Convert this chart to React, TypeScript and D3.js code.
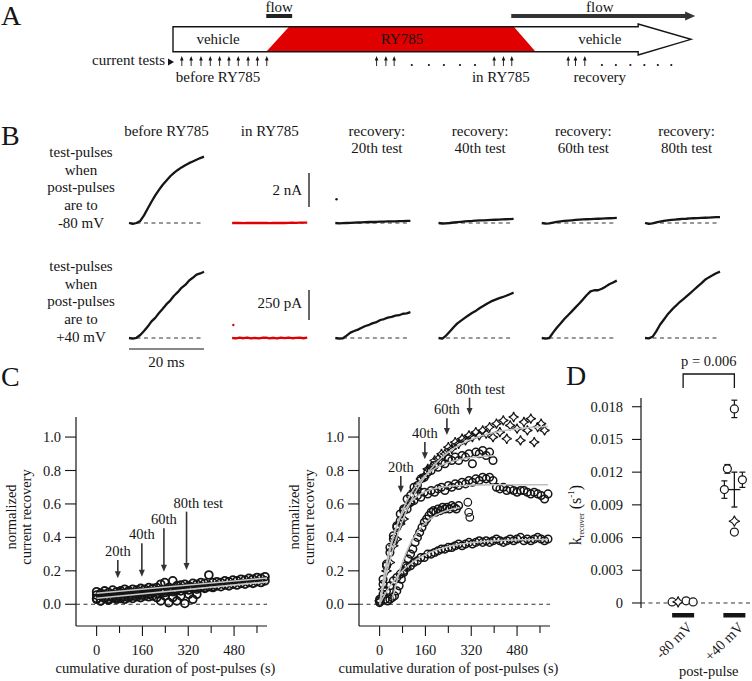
import React from 'react';
import * as d3 from 'd3';

const FONT = "'Liberation Serif', 'DejaVu Serif', 'Times New Roman', Times, serif";
const RED = '#e00000';
const INK = '#151515';

// ---------------- Panel A: protocol schematic (protocol time, a.u. 0–100) ----------------
const protocolRange = [0, 100];
const drugOnset = [18, 22.4];
const drugOffset = [65.8, 70];
const arrowHeadStart = 89.8;
const flowBrief = [18, 23];
const flowLong = [65.3, 100.8];
const testsBefore = [1.7, 3.5, 5.4, 7.2, 9.0, 10.8, 12.6, 14.5, 16.3, 18.1];
const testsDrugEarly = [39.3, 41.1, 42.7];
const dotsDrug = [46.1, 49.4, 52.3, 55.4, 58.3];
const testsDrugLate = [62, 63.8, 65.4];
const testsRecovery = [76.3, 77.7, 79.5];
const dotsRecovery = [82.8, 85.5, 88.3, 91, 93.6, 96.2];
const phaseLabels = ['vehicle', 'RY785', 'vehicle'];
const phaseLabelPos = [8.7, 44.2, 82.4];
const testLabels = ['before RY785', 'in RY785', 'recovery'];
const testLabelPos = [8.7, 63.3, 82.4];

// ---------------- Panel B: current traces ----------------
const traceTimesMs = [0, 1, 2, 3, 4, 5, 6, 7, 8, 9, 10, 11, 12, 13, 14, 15, 16, 17, 18, 19, 20];
const columnTitles = [
  ['before RY785'],
  ['in RY785'],
  ['recovery:', '20th test'],
  ['recovery:', '40th test'],
  ['recovery:', '60th test'],
  ['recovery:', '80th test'],
];
const rowLabelsTop = ['test-pulses', 'when', 'post-pulses', 'are to', '-80 mV'];
const rowLabelsBottom = ['test-pulses', 'when', 'post-pulses', 'are to', '+40 mV'];
// test-pulse currents, post-pulses to -80 mV (nA)
const topTracesNA = [
  [0, -0.05, 0, 0.12, 0.45, 0.85, 1.25, 1.62, 1.95, 2.25, 2.5, 2.75, 2.95, 3.12, 3.27, 3.4, 3.52, 3.62, 3.72, 3.82, 3.9],
  [0, 0.01, 0, -0.01, 0, 0.01, 0, 0, 0.01, 0, -0.01, 0, 0.01, 0, 0, 0.01, 0.02, 0.01, 0.02, 0.02, 0.02],
  [0, -0.02, -0.01, 0, 0.01, 0.02, 0.03, 0.04, 0.05, 0.06, 0.06, 0.07, 0.08, 0.08, 0.09, 0.1, 0.1, 0.11, 0.11, 0.12, 0.12],
  [0, -0.03, -0.02, 0, 0.03, 0.05, 0.07, 0.09, 0.11, 0.12, 0.14, 0.15, 0.16, 0.17, 0.18, 0.19, 0.2, 0.21, 0.22, 0.23, 0.24],
  [0, -0.04, -0.02, 0.02, 0.06, 0.09, 0.12, 0.14, 0.16, 0.18, 0.2, 0.21, 0.22, 0.23, 0.24, 0.25, 0.26, 0.27, 0.28, 0.29, 0.3],
  [0, -0.05, -0.02, 0.03, 0.08, 0.12, 0.15, 0.18, 0.2, 0.22, 0.24, 0.25, 0.27, 0.28, 0.29, 0.3, 0.31, 0.32, 0.33, 0.34, 0.35],
];
// test-pulse currents, post-pulses to +40 mV (pA)
const bottomTracesPA = [
  [0, -5, 2, 25, 58, 95, 138, 168, 208, 243, 282, 312, 352, 382, 418, 442, 478, 502, 528, 538, 552],
  [0, -4, 3, -2, 4, -3, 1, -4, 2, 3, -3, 2, -4, 3, -1, 4, -2, 1, 3, -2, 3],
  [0, -6, -2, 20, 45, 58, 70, 85, 100, 110, 124, 133, 150, 158, 170, 176, 186, 190, 202, 206, 216],
  [0, -5, 20, 55, 90, 122, 145, 168, 190, 210, 228, 250, 268, 288, 305, 318, 330, 340, 352, 365, 378],
  [0, -5, 0, 45, 85, 120, 158, 190, 222, 255, 288, 322, 358, 388, 398, 398, 410, 428, 448, 462, 478],
  [0, -3, 10, 55, 110, 152, 195, 230, 262, 292, 318, 345, 372, 400, 428, 455, 485, 505, 522, 540, 553],
];
const artifactTopNA = { col: 2, t: 0.3, v: 1.4 };
const artifactBottomPA = { col: 1, t: 0.3, v: 108 };

// ---------------- Panel C: recovery time courses ----------------
// left: post-pulses to -80 mV (open circles), samples every 14 s of post-pulse
const cLeftStartS = [0, 0, 0, 0];
const cLeftStepS = [14, 14, 14, 14];
const cLeft1 = [0.075, 0.065, 0.08, 0.07, 0.085, 0.075, 0.08, 0.09, 0.08, 0.09, 0.085, 0.095, 0.09, 0.1, 0.095, 0.1, 0.12, 0.13, 0.1, 0.14, 0.11, 0.115, 0.12, 0.11, 0.125, 0.12, 0.13, 0.125, 0.175, 0.13, 0.135, 0.13, 0.14, 0.135, 0.145, 0.14, 0.15, 0.145, 0.155, 0.15, 0.16, 0.155, 0.165];
const cLeft2 = [0.035, 0.02, 0.04, 0.03, 0.045, 0.04, 0.05, 0.045, 0.055, 0.05, 0.06, 0.055, 0.065, 0.06, 0.07, 0.065, 0.075, 0.07, 0.08, 0.075, 0.085, 0.08, 0.09, 0.085, 0.095, 0.09, 0.1, 0.095, 0.105, 0.1, 0.11, 0.105, 0.115, 0.11, 0.12, 0.115, 0.125, 0.12, 0.13, 0.125, 0.135, 0.13, 0.14];
const cLeft3 = [0.03, 0.02, 0.035, 0.025, 0.04, 0.03, 0.035, 0.03, 0.04, 0.035, 0.045, 0.04, 0.05, 0.045, 0.05, 0.04, 0.02, 0.05, 0.01, 0.04, 0.02, 0.05, 0.005, 0.06, 0.03, 0.06];
const cLeft4 = [0.055, 0.05, 0.06, 0.045, 0.06, 0.055, 0.065, 0.06, 0.07, 0.065, 0.07, 0.075, 0.07, 0.08, 0.075, 0.08, 0.085, 0.08, 0.09, 0.085, 0.09, 0.095, 0.09, 0.1, 0.095, 0.1, 0.105, 0.1, 0.11, 0.105];
const cLeftFitStartY = [0.066, 0.036];
const cLeftFitEndY = [0.157, 0.134];
const cLeftFitSpanS = [0, 595];

// right: post-pulses to +40 mV
const cRightStartS = [0, 0, 0, 20, 0];
const cRightStepS = [12, 12, 12, 8, 12];
const cRightMarker = ['star', 'circle', 'circle', 'circle', 'circle'];
const cRightA = [0.02, 0.09, 0.2, 0.25, 0.35, 0.39, 0.48, 0.51, 0.59, 0.61, 0.68, 0.69, 0.75, 0.76, 0.81, 0.82, 0.86, 0.87, 0.9, 0.9, 0.94, 0.93, 0.97, 0.96, 0.99, 0.98, 1.01, 1.0, 1.03, 1.01, 1.04, 1.02, 1.06, 1.0, 1.08, 1.03, 1.1, 0.99, 1.07, 1.12, 1.05, 0.98, 1.09, 1.04, 1.11, 0.97, 1.06, 1.08, 1.04];
const cRightB = [0.03, 0.12, 0.24, 0.31, 0.41, 0.46, 0.54, 0.57, 0.63, 0.65, 0.7, 0.71, 0.75, 0.76, 0.79, 0.8, 0.83, 0.82, 0.85, 0.84, 0.87, 0.86, 0.88, 0.86, 0.89, 0.88, 0.9, 0.84, 0.91, 0.9, 0.92, 0.89, 0.91, 0.86];
const cRightC = [0.02, 0.15, 0.23, 0.34, 0.39, 0.47, 0.5, 0.56, 0.57, 0.61, 0.62, 0.65, 0.64, 0.67, 0.66, 0.68, 0.67, 0.69, 0.7, 0.68, 0.71, 0.7, 0.72, 0.71, 0.73, 0.72, 0.74, 0.73, 0.75, 0.74, 0.76, 0.75, 0.76, 0.74, 0.7, 0.69, 0.7, 0.68, 0.69, 0.68, 0.67, 0.68, 0.68, 0.67, 0.66, 0.67, 0.66, 0.65, 0.63, 0.66];
const cRightD = [0.03, 0.02, 0.03, 0.04, 0.05, 0.08, 0.11, 0.15, 0.19, 0.23, 0.27, 0.3, 0.33, 0.37, 0.4, 0.43, 0.46, 0.49, 0.51, 0.53, 0.55, 0.56, 0.55, 0.57, 0.56, 0.58, 0.57, 0.58, 0.57, 0.59, 0.58, 0.57, 0.59];
const cRightE = [0.01, 0.06, 0.08, 0.11, 0.14, 0.16, 0.18, 0.2, 0.22, 0.23, 0.25, 0.26, 0.28, 0.28, 0.3, 0.3, 0.31, 0.32, 0.33, 0.33, 0.34, 0.34, 0.35, 0.36, 0.35, 0.36, 0.37, 0.36, 0.37, 0.38, 0.37, 0.38, 0.37, 0.38, 0.39, 0.38, 0.37, 0.38, 0.39, 0.38, 0.39, 0.4, 0.38, 0.39, 0.38, 0.39, 0.4, 0.39, 0.38, 0.39];
const cRightOutlierT = [308, 311, 315];
const cRightOutlierY = [0.61, 0.55, 0.52];
// single-exponential fits: base + amp * (1 - exp(-k (t - delay)))
const fitAmp = [1.075, 0.895, 0.715, 0.57, 0.39];
const fitRate = [0.0078, 0.0123, 0.0178, 0.014, 0.009];
const fitDelay = [0, 0, 0, 45, 0];
const fitBase = [0, 0, 0, 0.03, 0];
const fitEndS = [588, 400, 588, 280, 588];

const testArrowS = [74, 158, 235, 314];
const testArrowLabels = ['20th', '40th', '60th', '80th test'];
const leftArrowTopY = [0.265, 0.365, 0.455, 0.554];
const leftArrowTipY = [0.155, 0.165, 0.195, 0.205];
const rightArrowTopY = [0.767, 0.97, 1.112, 1.236];
const rightArrowTipY = [0.667, 0.867, 1.013, 1.132];

const cYTicks = [0, 0.2, 0.4, 0.6, 0.8, 1.0];
const cXTicks = [0, 160, 320, 480];
const cXMinorTicks = [80, 240, 400, 560];

// ---------------- Panel D: recovery rate constants ----------------
const dGroups = ['-80 mV', '+40 mV'];
const kMinus80 = [0.0001, 0.0001, 0.0002, 0.0001];
const kMinus80Marker = ['circle', 'star', 'circle', 'circle'];
const kPlus40 = [0.0178, 0.0123, 0.0104, 0.0113, 0.0075, 0.0065];
const kPlus40Err = [0.0008, 0.0004, 0.0008, 0.0007, 0, 0];
const kPlus40Marker = ['circle', 'circle', 'circle', 'circle', 'star', 'circle'];
const kPlus40Mean = 0.0104;
const kPlus40Sem = 0.0016;
const dYTicks = [0, 0.003, 0.006, 0.009, 0.012, 0.015, 0.018];
const pValueText = 'p = 0.006';

function starPath(r: number) {
  const c = r * 0.2;
  return `M0,${-r}Q${c},${-c} ${r},0Q${c},${c} 0,${r}Q${-c},${c} ${-r},0Q${-c},${-c} 0,${-r}Z`;
}

function UpArrow({ x }: { x: number }) {
  return (
    <g>
      <line x1={x} x2={x} y1={66} y2={58} stroke={INK} strokeWidth={0.9} />
      <path d={`M${x - 1.8},${60.5}L${x},${56}L${x + 1.8},${60.5}Z`} fill={INK} />
    </g>
  );
}

function DownArrow({ x, y1, y2 }: { x: number; y1: number; y2: number }) {
  return (
    <g>
      <line x1={x} x2={x} y1={y1} y2={y2 - 6} stroke="#333" strokeWidth={1.6} />
      <path d={`M${x - 3},${y2 - 7}L${x + 3},${y2 - 7}L${x},${y2}Z`} fill="#333" />
    </g>
  );
}

export default function App() {
  // ---------- Panel A ----------
  const xA = d3.scaleLinear().domain(protocolRange).range([173, 691]);
  const bodyTop = 26.7, bodyBot = 51.7, headTop = 24, headBot = 55, midY = 39.3;
  const outline = [
    [xA(0), bodyTop], [xA(arrowHeadStart), bodyTop], [xA(arrowHeadStart), headTop], [xA(100), midY],
    [xA(arrowHeadStart), headBot], [xA(arrowHeadStart), bodyBot], [xA(0), bodyBot],
  ];
  const outlineStr = outline.map((p) => p.join(',')).join(' ');
  const redStr = [
    [xA(drugOnset[1]), bodyTop], [xA(drugOffset[0]), bodyTop], [xA(drugOffset[1]), bodyBot], [xA(drugOnset[0]), bodyBot],
  ].map((p) => p.join(',')).join(' ');

  // ---------- Panel B ----------
  const colX = d3.scaleLinear().domain([0, 5]).range([129, 645]);
  const xT = d3.scaleLinear().domain([0, 20]).range([0, 75]);
  const yTop = d3.scaleLinear().domain([0, 2]).range([223, 189]);
  const yBot = d3.scaleLinear().domain([0, 250]).range([338, 308]);
  const traceLine = (col: number, y: any) =>
    d3.line<number>().x((_, i) => colX(col) + xT(traceTimesMs[i])).y((v) => y(v));

  // ---------- Panel C ----------
  const cXDomain = [-72, 595];
  const cY = d3.scaleLinear().domain([-0.13, 1.12]).range([626, 417]);
  const xLeft = d3.scaleLinear().domain(cXDomain).range([76, 267]);
  const xRight = d3.scaleLinear().domain(cXDomain).range([359, 550]);
  const leftSeries = [cLeft1, cLeft2, cLeft3, cLeft4];
  const rightSeries = [cRightA, cRightB, cRightC, cRightD, cRightE];

  const renderCAxes = (x: any, key: string) => {
    const [x0, x1] = x.range();
    const [yb, yt] = cY.range();
    return (
      <g key={key} fontSize={14.5} fill={INK}>
        <line x1={x0} x2={x0} y1={yt} y2={yb} stroke={INK} strokeWidth={1.2} />
        <line x1={x0} x2={x1} y1={yb} y2={yb} stroke={INK} strokeWidth={1.2} />
        {cYTicks.map((t) => (
          <g key={'y' + t}>
            <line x1={x0 - 11} x2={x0} y1={cY(t)} y2={cY(t)} stroke={INK} strokeWidth={1.1} />
            <text x={x0 - 15} y={cY(t) + 5} textAnchor="end">{d3.format('.1f')(t)}</text>
          </g>
        ))}
        {cXTicks.map((t) => (
          <g key={'x' + t}>
            <line x1={x(t)} x2={x(t)} y1={yb} y2={yb + 10} stroke={INK} strokeWidth={1.1} />
            <text x={x(t)} y={655} textAnchor="middle">{t}</text>
          </g>
        ))}
        {cXMinorTicks.map((t) => (
          <line key={'m' + t} x1={x(t)} x2={x(t)} y1={yb} y2={yb + 7} stroke={INK} strokeWidth={1.1} />
        ))}
        <line x1={x0} x2={x1} y1={cY(0)} y2={cY(0)} stroke="#333" strokeWidth={1} strokeDasharray="4 3.5" />
        <text x={(x0 + x1) / 2 - 6} y={673} textAnchor="middle">cumulative duration of post-pulses (s)</text>
        <text transform={`translate(${x0 - 60},${517}) rotate(-90)`} textAnchor="middle">normalized</text>
        <text transform={`translate(${x0 - 45},${517}) rotate(-90)`} textAnchor="middle">current recovery</text>
      </g>
    );
  };

  const fitCurve = (i: number) => {
    const ts = d3.range(fitDelay[i], fitEndS[i] + 0.1, 3);
    return ts.map((t) => [t, fitBase[i] + fitAmp[i] * (1 - Math.exp(-fitRate[i] * (t - fitDelay[i])))]);
  };
  const lineR = d3.line<number[]>().x((d) => xRight(d[0])).y((d) => cY(d[1]));
  const lineL = d3.line<number[]>().x((d) => xLeft(d[0])).y((d) => cY(d[1]));

  // ---------- Panel D ----------
  const xD = d3.scaleBand().domain(dGroups).range([657.5, 760]);
  const yD = d3.scaleLinear().domain([-0.00046, 0.0188]).range([608, 398]);
  const cx80 = (xD('-80 mV') as number) + xD.bandwidth() / 2;
  const cx40 = (xD('+40 mV') as number) + xD.bandwidth() / 2;
  const offs80 = [-11, -5, 3, 10];
  const offs40 = [0, -7, -10, 8, 0, 0];
  const marker = (m: string, x: number, y: number, key: string, r = 4) =>
    m === 'star' ? (
      <path key={key} d={starPath(5.5)} transform={`translate(${x},${y})`} fill="white" stroke={INK} strokeWidth={1.1} />
    ) : (
      <circle key={key} cx={x} cy={y} r={r} fill="white" stroke={INK} strokeWidth={1.2} />
    );

  return (
    <svg width={752} height={681} style={{ position: 'absolute', left: 0, top: 0, background: '#fff', fontFamily: FONT }}>
      <rect width={752} height={681} fill="#fff" />

      {/* panel letters */}
      <g fontSize={28} fill={INK}>
        <text x={1} y={25}>A</text>
        <text x={1} y={145}>B</text>
        <text x={1} y={386}>C</text>
        <text x={566} y={385}>D</text>
      </g>

      {/* ================= Panel A ================= */}
      <g fontSize={15} fill={INK}>
        <text x={xA((flowBrief[0] + flowBrief[1]) / 2)} y={12} textAnchor="middle">flow</text>
        <rect x={xA(flowBrief[0])} y={14} width={xA(flowBrief[1]) - xA(flowBrief[0])} height={4} fill="#222" />
        <text x={xA(82.4)} y={12} textAnchor="middle">flow</text>
        <line x1={xA(flowLong[0])} x2={xA(flowLong[1]) - 8} y1={16} y2={16} stroke="#333" strokeWidth={4} />
        <path d={`M${xA(flowLong[1]) - 10},${11.5}L${xA(flowLong[1])},${16}L${xA(flowLong[1]) - 10},${20.5}Z`} fill="#333" />

        <polygon points={outlineStr} fill="#fff" />
        <polygon points={redStr} fill={RED} />
        <polygon points={outlineStr} fill="none" stroke={INK} strokeWidth={1.4} />
        {phaseLabels.map((l, i) => (
          <text key={l + i} x={xA(phaseLabelPos[i])} y={44} textAnchor="middle">{l}</text>
        ))}
        <text x={165} y={65} textAnchor="end">current tests</text>
        <path d="M168,58.5L174,62L168,65.5Z" fill={INK} />
        {[...testsBefore, ...testsDrugEarly, ...testsDrugLate, ...testsRecovery].map((t, i) => (
          <UpArrow key={'ua' + i} x={xA(t)} />
        ))}
        {[...dotsDrug, ...dotsRecovery].map((t, i) => (
          <circle key={'d' + i} cx={xA(t)} cy={65} r={1.1} fill={INK} />
        ))}
        {testLabels.map((l, i) => (
          <text key={l} x={xA(testLabelPos[i])} y={82} textAnchor="middle">{l}</text>
        ))}
      </g>

      {/* ================= Panel B ================= */}
      <g fontSize={15} fill={INK}>
        {columnTitles.map((lines, c) =>
          lines.map((l, j) => (
            <text key={c + '-' + j} x={colX(c) + 37.5 + (c >= 2 ? 4 : 0)} y={136 + j * 17} textAnchor="middle">{l}</text>
          ))
        )}
        {rowLabelsTop.map((l, j) => (
          <text key={'rt' + j} x={81} y={157 + j * 17.7} textAnchor="middle">{l}</text>
        ))}
        {rowLabelsBottom.map((l, j) => (
          <text key={'rb' + j} x={81} y={271 + j * 17.7} textAnchor="middle">{l}</text>
        ))}
        {topTracesNA.map((tr, c) => (
          <g key={'tt' + c}>
            <line x1={colX(c)} x2={colX(c) + xT(20)} y1={yTop(0)} y2={yTop(0)} stroke="#333" strokeWidth={1} strokeDasharray="4 3.5" />
            <path d={traceLine(c, yTop)(tr) as string} fill="none" stroke={c === 1 ? RED : INK} strokeWidth={2.3} strokeLinejoin="round" />
          </g>
        ))}
        {bottomTracesPA.map((tr, c) => (
          <g key={'bt' + c}>
            <line x1={colX(c)} x2={colX(c) + xT(20)} y1={yBot(0)} y2={yBot(0)} stroke="#333" strokeWidth={1} strokeDasharray="4 3.5" />
            <path d={traceLine(c, yBot)(tr) as string} fill="none" stroke={c === 1 ? RED : INK} strokeWidth={2.3} strokeLinejoin="round" />
          </g>
        ))}
        <circle cx={colX(artifactTopNA.col) + xT(artifactTopNA.t)} cy={yTop(artifactTopNA.v)} r={1.2} fill={INK} />
        <circle cx={colX(artifactBottomPA.col) + xT(artifactBottomPA.t)} cy={yBot(artifactBottomPA.v)} r={1.2} fill={RED} />
        {/* scale bars */}
        <line x1={309} x2={309} y1={207} y2={207 - (yTop(0) - yTop(2))} stroke={INK} strokeWidth={1.3} />
        <text x={302} y={195} textAnchor="end">2 nA</text>
        <line x1={309} x2={309} y1={320} y2={320 - (yBot(0) - yBot(250))} stroke={INK} strokeWidth={1.3} />
        <text x={302} y={308} textAnchor="end">250 pA</text>
        <line x1={colX(0)} x2={colX(0) + xT(20)} y1={349} y2={349} stroke="#888" strokeWidth={1.8} />
        <text x={colX(0) + xT(10)} y={367} textAnchor="middle">20 ms</text>
      </g>

      {/* ================= Panel C ================= */}
      {renderCAxes(xLeft, 'axL')}
      {renderCAxes(xRight, 'axR')}

      {/* left data */}
      <g fill="none" stroke={INK} strokeWidth={1.8}>
        {leftSeries.map((s, si) =>
          s.map((v, i) => (
            <circle key={si + '-' + i} cx={xLeft(cLeftStartS[si] + i * cLeftStepS[si])} cy={cY(v)} r={3.9} />
          ))
        )}
      </g>
      <g fill="none" stroke="#c8c8c8" strokeWidth={1.6}>
        {cLeftFitStartY.map((y0, i) => (
          <path key={'lf' + i} d={lineL([[cLeftFitSpanS[0], y0], [cLeftFitSpanS[1], cLeftFitEndY[i]]]) as string} />
        ))}
      </g>

      {/* right data */}
      <g fill="none" stroke={INK} strokeWidth={1.5}>
        {rightSeries.map((s, si) =>
          s.map((v, i) => {
            const x = xRight(cRightStartS[si] + i * cRightStepS[si]);
            return cRightMarker[si] === 'star' ? (
              <path key={si + '-' + i} d={starPath(5)} transform={`translate(${x},${cY(v)})`} strokeWidth={1.2} />
            ) : (
              <circle key={si + '-' + i} cx={x} cy={cY(v)} r={3.8} />
            );
          })
        )}
        {cRightOutlierT.map((t, i) => (
          <circle key={'o' + i} cx={xRight(t)} cy={cY(cRightOutlierY[i])} r={3.8} strokeWidth={1.2} />
        ))}
      </g>
      <g fill="none" stroke="#c0c0c0" strokeWidth={1.5}>
        {fitAmp.map((_, i) => (
          <path key={'rf' + i} d={lineR(fitCurve(i)) as string} />
        ))}
      </g>

      {/* test arrows */}
      <g fontSize={14.5} fill={INK}>
        {testArrowS.map((t, i) => (
          <g key={'la' + i}>
            <DownArrow x={xLeft(t)} y1={cY(leftArrowTopY[i])} y2={cY(leftArrowTipY[i])} />
            <text x={i === 3 ? xLeft(t) - 13 : xLeft(t)} y={cY(leftArrowTopY[i]) - 4} textAnchor={i === 3 ? 'start' : 'middle'}>{testArrowLabels[i]}</text>
            <DownArrow x={xRight(t)} y1={cY(rightArrowTopY[i])} y2={cY(rightArrowTipY[i])} />
            <text x={i === 3 ? xRight(t) - 14 : xRight(t)} y={cY(rightArrowTopY[i]) - 4} textAnchor={i === 3 ? 'start' : 'middle'}>{testArrowLabels[i]}</text>
          </g>
        ))}
      </g>

      {/* ================= Panel D ================= */}
      <g fontSize={14.5} fill={INK}>
        <line x1={641} x2={641} y1={398} y2={608} stroke={INK} strokeWidth={1.2} />
        {dYTicks.map((t) => (
          <g key={'dy' + t}>
            <line x1={632} x2={641} y1={yD(t)} y2={yD(t)} stroke={INK} strokeWidth={1.1} />
            <text x={623} y={yD(t) + 5} textAnchor="end">{t === 0 ? '0' : d3.format('.3f')(t)}</text>
          </g>
        ))}
        <line x1={641} x2={752} y1={yD(0)} y2={yD(0)} stroke="#333" strokeWidth={1} strokeDasharray="4 3.5" />
        <text transform="translate(581,515) rotate(-90)" textAnchor="middle" fontSize={16}>
          k<tspan fontSize={8} dy={3}>recover</tspan>
          <tspan dy={-3}> (s</tspan>
          <tspan fontSize={9} dy={-7}>-1</tspan>
          <tspan dy={7}>)</tspan>
        </text>
        {/* p-value bracket */}
        <path d={`M${cx80},388V374H${cx40}V388`} fill="none" stroke={INK} strokeWidth={1.3} />
        <text x={(cx80 + cx40) / 2} y={366} textAnchor="middle">{pValueText}</text>
        {/* group bars */}
        {dGroups.map((g) => (
          <rect key={g} x={(xD(g) as number) + xD.bandwidth() / 2 - 11} y={613} width={22} height={4.5} fill={INK} />
        ))}
        {dGroups.map((g) => (
          <text key={'l' + g} transform={`translate(${(xD(g) as number) + xD.bandwidth() / 2 + 10},${628}) rotate(-45)`} textAnchor="end">{g}</text>
        ))}
        <text x={(cx80 + cx40) / 2} y={676} textAnchor="middle">post-pulse</text>
        {/* error bars */}
        {kPlus40.map((v, i) =>
          kPlus40Err[i] > 0 ? (
            <g key={'e' + i} stroke={INK} strokeWidth={1.2}>
              <line x1={cx40 + offs40[i]} x2={cx40 + offs40[i]} y1={yD(v - kPlus40Err[i])} y2={yD(v + kPlus40Err[i])} />
              <line x1={cx40 + offs40[i] - 3} x2={cx40 + offs40[i] + 3} y1={yD(v - kPlus40Err[i])} y2={yD(v - kPlus40Err[i])} />
              <line x1={cx40 + offs40[i] - 3} x2={cx40 + offs40[i] + 3} y1={yD(v + kPlus40Err[i])} y2={yD(v + kPlus40Err[i])} />
            </g>
          ) : null
        )}
        <g stroke={INK} strokeWidth={1.3}>
          <line x1={cx40} x2={cx40} y1={yD(kPlus40Mean - kPlus40Sem)} y2={yD(kPlus40Mean + kPlus40Sem)} />
          <line x1={cx40 - 3} x2={cx40 + 3} y1={yD(kPlus40Mean - kPlus40Sem)} y2={yD(kPlus40Mean - kPlus40Sem)} />
          <line x1={cx40 - 3} x2={cx40 + 3} y1={yD(kPlus40Mean + kPlus40Sem)} y2={yD(kPlus40Mean + kPlus40Sem)} />
          <line x1={cx40 - 6} x2={cx40 + 6} y1={yD(kPlus40Mean)} y2={yD(kPlus40Mean)} />
        </g>
        {kMinus80.map((v, i) => marker(kMinus80Marker[i], cx80 + offs80[i], yD(v), 'm' + i))}
        {kPlus40.map((v, i) => marker(kPlus40Marker[i], cx40 + offs40[i], yD(v), 'p' + i))}
      </g>
    </svg>
  );
}
